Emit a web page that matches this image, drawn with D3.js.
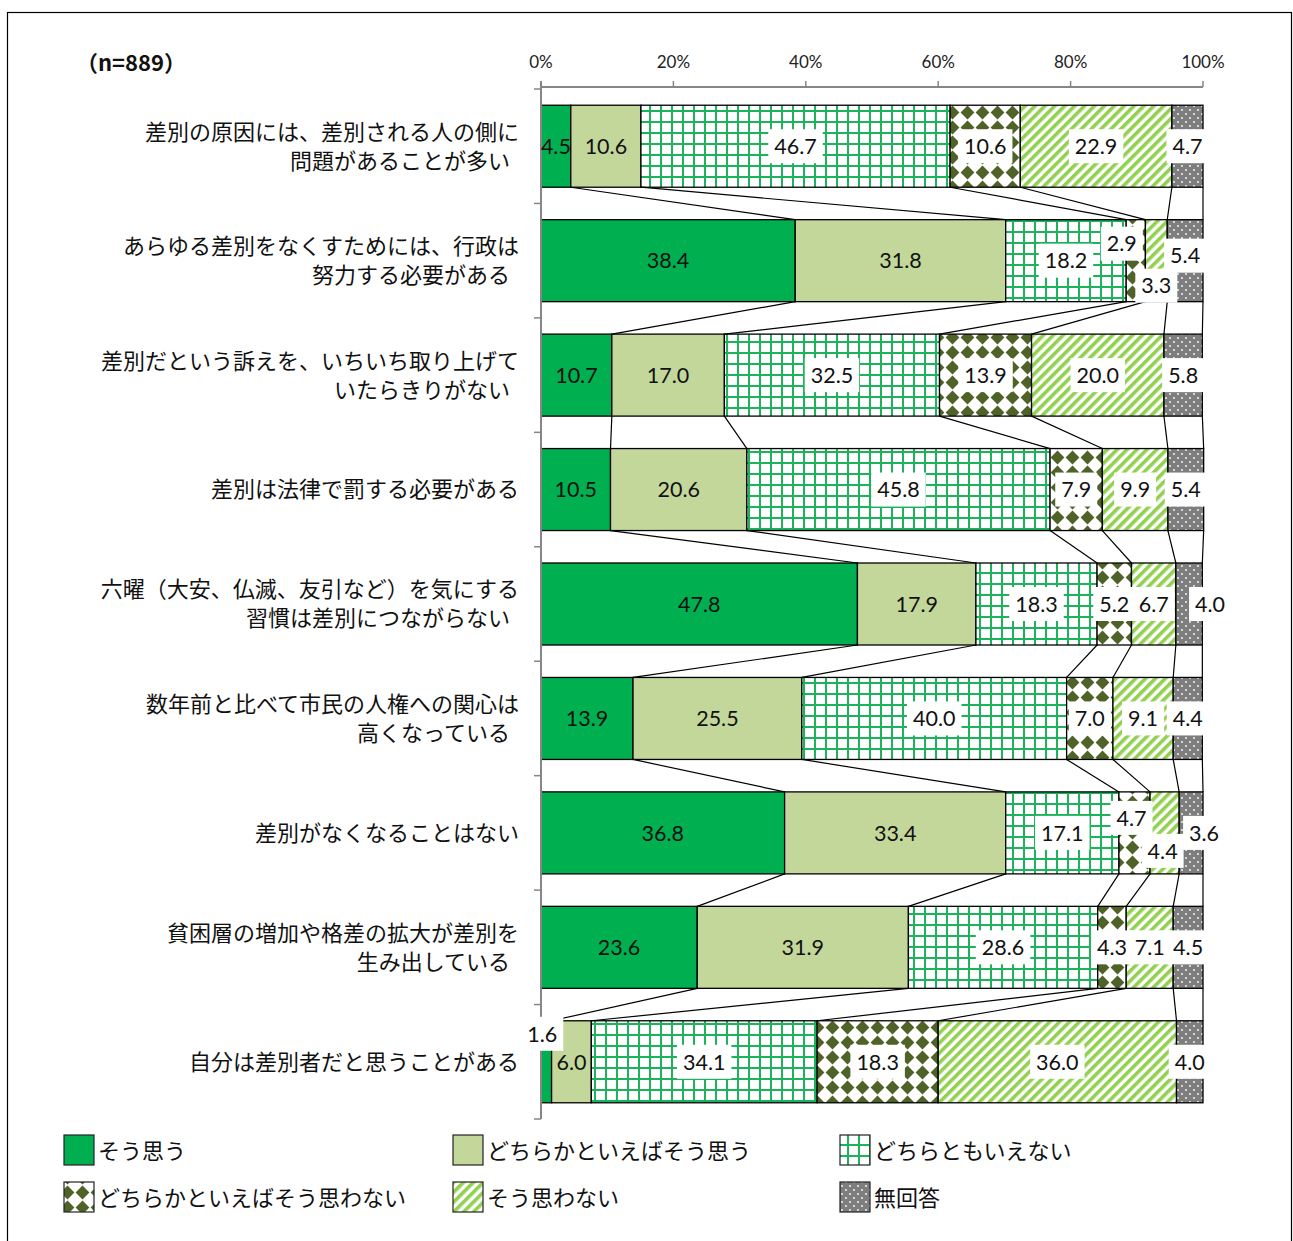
<!DOCTYPE html>
<html><head><meta charset="utf-8">
<script src="https://cdn.jsdelivr.net/npm/d3@7"></script>
<style>
html,body{margin:0;padding:0;background:#fff;}
svg{display:block;}
</style></head>
<body>
<svg id="chart" width="1293" height="1241"></svg>
<script>
// ---------- data ----------
const sampleLabel = "（n=889）";
const categories = [
  "差別の原因には、差別される人の側に\n問題があることが多い",
  "あらゆる差別をなくすためには、行政は\n努力する必要がある",
  "差別だという訴えを、いちいち取り上げて\nいたらきりがない",
  "差別は法律で罰する必要がある",
  "六曜（大安、仏滅、友引など）を気にする\n習慣は差別につながらない",
  "数年前と比べて市民の人権への関心は\n高くなっている",
  "差別がなくなることはない",
  "貧困層の増加や格差の拡大が差別を\n生み出している",
  "自分は差別者だと思うことがある"
];
const seriesNames = ["そう思う","どちらかといえばそう思う","どちらともいえない","どちらかといえばそう思わない","そう思わない","無回答"];
const souOmou        = [4.5, 38.4, 10.7, 10.5, 47.8, 13.9, 36.8, 23.6, 1.6];
const dochiraSou     = [10.6, 31.8, 17.0, 20.6, 17.9, 25.5, 33.4, 31.9, 6.0];
const dochiraTomo    = [46.7, 18.2, 32.5, 45.8, 18.3, 40.0, 17.1, 28.6, 34.1];
const dochiraSouNai  = [10.6, 2.9, 13.9, 7.9, 5.2, 7.0, 4.7, 4.3, 18.3];
const souOmowanai    = [22.9, 3.3, 20.0, 9.9, 6.7, 9.1, 4.4, 7.1, 36.0];
const muKaitou       = [4.7, 5.4, 5.8, 5.4, 4.0, 4.4, 3.6, 4.5, 4.0];
const tickValues = [0, 20, 40, 60, 80, 100];

// ---------- layout config ----------
const seriesValues = [souOmou, dochiraSou, dochiraTomo, dochiraSouNai, souOmowanai, muKaitou];
const fills = ["#00B050", "#C4D79B", "url(#pGrid)", "url(#pDiamond)", "url(#pStripe)", "url(#pDots)"];
// manual label nudges "row-series": [dx, dy]
const labelNudge = {
  "1-3": [-14, -17], "1-4": [0, 25], "1-5": [0, -5],
  "4-5": [21, 0],
  "6-3": [-3, -15], "6-4": [-2, 18], "6-5": [13, 0],
  "8-0": [-4, -28]
};

const svg = d3.select("#chart");
const defs = svg.append("defs");

// grid pattern
const pg = defs.append("pattern").attr("id","pGrid").attr("patternUnits","userSpaceOnUse")
  .attr("width",11).attr("height",11);
pg.append("rect").attr("width",11).attr("height",11).attr("fill","#fff");
pg.append("rect").attr("x",0).attr("y",0).attr("width",2).attr("height",11).attr("fill","#1DB35C");
pg.append("rect").attr("x",0).attr("y",0).attr("width",11).attr("height",2).attr("fill","#1DB35C");

// diamond pattern
const pd = defs.append("pattern").attr("id","pDiamond").attr("patternUnits","userSpaceOnUse")
  .attr("width",15).attr("height",15);
pd.append("rect").attr("width",15).attr("height",15).attr("fill","#fff");
pd.append("polygon").attr("points","7.5,0.6 14.4,7.5 7.5,14.4 0.6,7.5").attr("fill","#4F6228");

// stripe pattern
const ps = defs.append("pattern").attr("id","pStripe").attr("patternUnits","userSpaceOnUse")
  .attr("width",7).attr("height",7).attr("patternTransform","rotate(45)");
ps.append("rect").attr("width",7).attr("height",7).attr("fill","#fff");
ps.append("rect").attr("width",3.6).attr("height",7).attr("fill","#92D050");

// dots pattern
const pt = defs.append("pattern").attr("id","pDots").attr("patternUnits","userSpaceOnUse")
  .attr("width",8).attr("height",8);
pt.append("rect").attr("width",8).attr("height",8).attr("fill","#7e7e7e");
pt.append("circle").attr("cx",2).attr("cy",2).attr("r",0.9).attr("fill","#fff");
pt.append("circle").attr("cx",6).attr("cy",6).attr("r",0.9).attr("fill","#fff");

// outer frame
svg.append("rect").attr("x",7.5).attr("y",12.5).attr("width",1284).attr("height",1240)
  .attr("fill","none").attr("stroke","#000").attr("stroke-width",1.2);

// scales
const x = d3.scaleLinear().domain([0,100]).range([541,1203]);
const y = d3.scaleBand().domain(d3.range(categories.length)).range([89,1119])
  .paddingInner(0.2835).paddingOuter(0.14175);

// stacked data
const rows = categories.map((c,i) => {
  let cum = 0;
  return seriesValues.map((s,k) => { const v = s[i]; const d = {row:i, k, v, x0:cum, x1:cum+v}; cum += v; return d; });
});

// bars
const gBars = svg.append("g");
rows.forEach(r => {
  gBars.selectAll(null).data(r).enter().append("rect")
    .attr("x", d => x(d.x0)).attr("y", d => y(d.row))
    .attr("width", d => x(d.x1) - x(d.x0)).attr("height", y.bandwidth())
    .attr("fill", d => fills[d.k]).attr("stroke","#000").attr("stroke-width",1.3);
});

// series connector lines
const gLines = svg.append("g");
for (let i = 0; i < rows.length - 1; i++) {
  for (let k = 0; k < 6; k++) {
    gLines.append("line")
      .attr("x1", x(rows[i][k].x1)).attr("y1", y(i) + y.bandwidth())
      .attr("x2", x(rows[i+1][k].x1)).attr("y2", y(i+1))
      .attr("stroke","#000").attr("stroke-width",1.2);
  }
}

// top axis
const gAx = svg.append("g");
gAx.append("line").attr("x1",x(0)).attr("x2",x(100)).attr("y1",87).attr("y2",87)
  .attr("stroke","#868686").attr("stroke-width",2);
gAx.selectAll(null).data(tickValues).enter().append("line")
  .attr("x1",d=>x(d)).attr("x2",d=>x(d)).attr("y1",81).attr("y2",87)
  .attr("stroke","#868686").attr("stroke-width",1.5);
gAx.selectAll(null).data(tickValues).enter().append("text")
  .attr("x",d=>x(d)).attr("y",68).attr("text-anchor","middle")
  .attr("font-family","Lato, 'Noto Sans', sans-serif").attr("font-size",17).attr("fill","#222")
  .text(d => d + "%");

// left axis
const step = y.step();
gAx.append("line").attr("x1",x(0)).attr("x2",x(0)).attr("y1",81).attr("y2",1119)
  .attr("stroke","#868686").attr("stroke-width",2);
gAx.selectAll(null).data(d3.range(categories.length+1)).enter().append("line")
  .attr("x1",534).attr("x2",x(0)).attr("y1",d=>89+d*step).attr("y2",d=>89+d*step)
  .attr("stroke","#868686").attr("stroke-width",1.5);

// category labels
const jp = "'Noto Sans CJK JP', 'Noto Sans', sans-serif";
const gCat = svg.append("g");
categories.forEach((c,i) => {
  const lines = c.split("\n");
  const cy = y(i) + y.bandwidth()/2;
  lines.forEach((ln, j) => {
    const off = (j - (lines.length-1)/2) * 29;
    gCat.append("text").attr("x", j === 0 ? 519 : 510).attr("y", cy + off)
      .attr("dy","0.36em").attr("text-anchor","end")
      .attr("font-family", jp).attr("font-size",22).attr("fill","#111")
      .text(ln);
  });
});

// value labels
const gLab = svg.append("g");
const fmt = d3.format(".1f");
rows.forEach(r => r.forEach(d => {
  const key = d.row + "-" + d.k;
  const nud = labelNudge[key] || [0,0];
  const cx = x((d.x0 + d.x1)/2) + nud[0];
  const cy = y(d.row) + y.bandwidth()/2 + nud[1];
  const g = gLab.append("g");
  const t = g.append("text").attr("x",cx).attr("y",cy).attr("dy","0.36em")
    .attr("text-anchor","middle").attr("font-family","Lato, 'Noto Sans', sans-serif")
    .attr("font-size",21.5).attr("fill","#111").text(fmt(d.v));
  if (d.k >= 2 || labelNudge[key]) {
    const w = t.node().getComputedTextLength();
    g.insert("rect","text").attr("x", cx - w/2 - 6).attr("y", cy - 17)
      .attr("width", w + 12).attr("height", 34).attr("fill","#fff");
  }
}));

// n label
svg.append("text").attr("x",76).attr("y",63).attr("dy","0.36em")
  .attr("font-family", jp).attr("font-weight","bold").attr("font-size",22).attr("fill","#111")
  .text(sampleLabel);

// legend
const legPos = [[64,1135],[453,1135],[840,1135],[64,1182],[453,1182],[840,1182]];
const gLeg = svg.append("g");
seriesNames.forEach((n,k) => {
  const [lx, ly] = legPos[k];
  gLeg.append("rect").attr("x",lx).attr("y",ly).attr("width",30).attr("height",30)
    .attr("fill",fills[k]).attr("stroke","#222").attr("stroke-width",1.2);
  gLeg.append("text").attr("x",lx+34).attr("y",ly+16).attr("dy","0.36em")
    .attr("font-family", jp).attr("font-size",22).attr("fill","#111").text(n);
});
</script>
</body></html>
